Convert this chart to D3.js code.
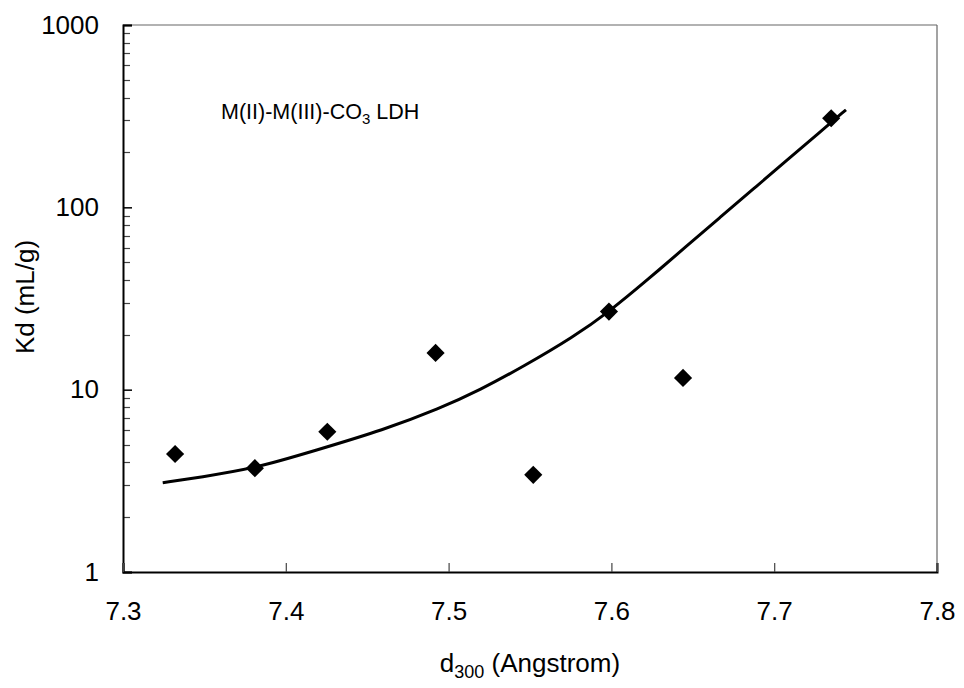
<!DOCTYPE html>
<html>
<head>
<meta charset="utf-8">
<script src="https://cdn.jsdelivr.net/npm/d3@7"></script>
<style>
  html, body { margin: 0; padding: 0; background: #fff; }
  svg { display: block; }
  text { font-family: "Liberation Sans", Arial, sans-serif; fill: #000; }
</style>
</head>
<body>
<svg id="chart" width="964" height="688"></svg>
<script>
// Measured distribution coefficients against basal spacing
const d300 = [7.332, 7.381, 7.4255, 7.492, 7.552, 7.5985, 7.644, 7.735];
const kd   = [4.44, 3.71, 5.88, 15.9, 3.41, 26.8, 11.6, 308];

// Trend curve through the measurements
const fitD300 = [7.3244, 7.3473, 7.3811, 7.4190, 7.4599, 7.4947, 7.5193, 7.5459, 7.5766,
                 7.5985, 7.6217, 7.6463, 7.6667, 7.6872, 7.7077, 7.7281, 7.7441];
const fitKd   = [3.09, 3.31, 3.70, 4.67, 6.01, 7.90, 9.96, 13.4, 19.45,
                 26.7, 39.7, 61.4, 88.0, 126.1, 180.7, 259, 342.8];

const xTicks = [7.3, 7.4, 7.5, 7.6, 7.7, 7.8];
const yTicks = [1, 10, 100, 1000];

const svg = d3.select("#chart");
const m = { left: 123, right: 937, top: 25, bottom: 572 };

const x = d3.scaleLinear().domain([7.3, 7.8]).range([m.left, m.right]);
const y = d3.scaleLog().domain([1, 1000]).range([m.bottom, m.top]);

// frame: grey top and right edges
svg.append("line").attr("x1", m.left).attr("x2", m.right).attr("y1", m.top).attr("y2", m.top)
  .attr("stroke", "#666").attr("stroke-width", 1.2);
svg.append("line").attr("x1", m.right).attr("x2", m.right).attr("y1", m.top).attr("y2", m.bottom)
  .attr("stroke", "#666").attr("stroke-width", 1.2);

// minor ticks on the log axis
const minor = [];
for (let dec = 1; dec < 1000; dec *= 10) for (let k = 2; k <= 9; k++) minor.push(dec * k);
svg.append("g").selectAll("line").data(minor).join("line")
  .attr("x1", m.left).attr("x2", m.left + 7)
  .attr("y1", d => Math.round(y(d)) + 0.5).attr("y2", d => Math.round(y(d)) + 0.5)
  .attr("stroke", "#444").attr("stroke-width", 1.2);

// y axis
const yAxis = d3.axisLeft(y).tickValues(yTicks).tickFormat(d3.format("d")).tickSize(-9).tickPadding(24);
const gy = svg.append("g").attr("transform", `translate(${m.left},0)`).call(yAxis);
gy.select(".domain").attr("stroke", "#000").attr("stroke-width", 2);
gy.selectAll(".tick line").attr("stroke", "#000").attr("stroke-width", 1.5);
gy.selectAll(".tick text").attr("font-size", 26).attr("font-family", "Liberation Sans, Arial, sans-serif");

// x axis
const xAxis = d3.axisBottom(x).tickValues(xTicks).tickFormat(d3.format(".1f")).tickSize(-9).tickPadding(30);
const gx = svg.append("g").attr("transform", `translate(0,${m.bottom})`).call(xAxis);
gx.select(".domain").attr("stroke", "#000").attr("stroke-width", 2);
gx.selectAll(".tick line").attr("stroke", "#444").attr("stroke-width", 1.2);
gx.selectAll(".tick text").attr("font-size", 26).attr("font-family", "Liberation Sans, Arial, sans-serif");

// trend curve (B-spline smoothing through the sampled curve)
const fit = fitD300.map((v, i) => [v, fitKd[i]]);
svg.append("path").datum(fit)
  .attr("fill", "none").attr("stroke", "#000").attr("stroke-width", 3)
  .attr("d", d3.line().x(d => x(d[0])).y(d => y(d[1])).curve(d3.curveBasis));

// diamond markers
const pts = d300.map((v, i) => [v, kd[i]]);
const diamond = d3.symbol().type(d3.symbolSquare).size(165);
svg.append("g").selectAll("path").data(pts).join("path")
  .attr("d", diamond)
  .attr("transform", d => `translate(${x(d[0])},${y(d[1])}) rotate(45)`)
  .attr("fill", "#000");

// annotation
const note = svg.append("text").attr("x", 221).attr("y", 119).attr("font-size", 21.5);
note.append("tspan").text("M(II)-M(III)-CO");
note.append("tspan").attr("font-size", 15).attr("dy", 5).text("3");
note.append("tspan").attr("dy", -5).text(" LDH");

// axis titles
const xt = svg.append("text").attr("x", (m.left + m.right) / 2).attr("y", 672)
  .attr("text-anchor", "middle").attr("font-size", 26);
xt.append("tspan").text("d");
xt.append("tspan").attr("font-size", 18).attr("dy", 6).text("300");
xt.append("tspan").attr("dy", -6).text(" (Angstrom)");

svg.append("text").attr("transform", "translate(34,297) rotate(-90)")
  .attr("text-anchor", "middle").attr("font-size", 26).text("Kd (mL/g)");
</script>
</body>
</html>
